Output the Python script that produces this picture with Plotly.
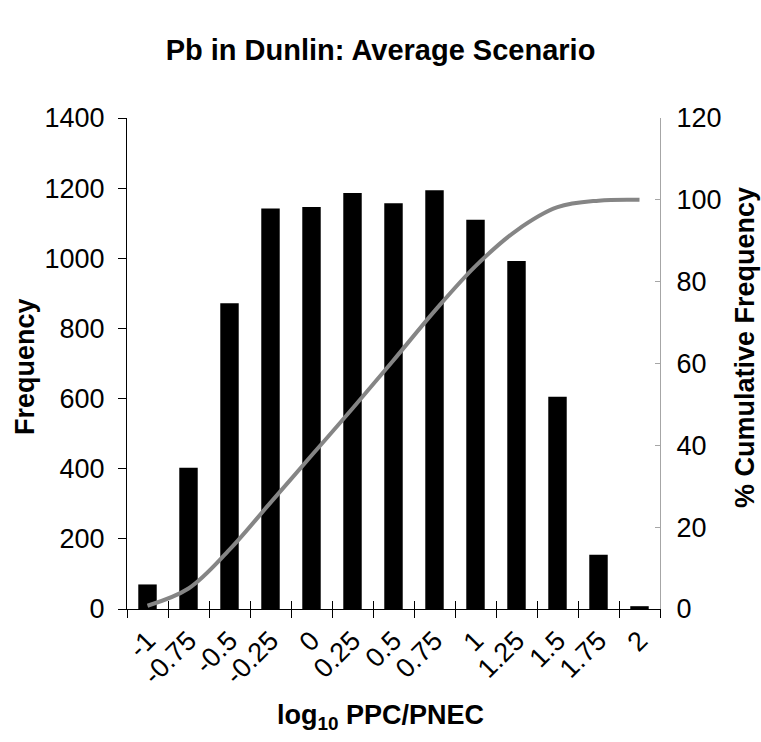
import plotly.graph_objects as go

categories = ["-1", "-0.75", "-0.5", "-0.25", "0", "0.25", "0.5", "0.75", "1", "1.25", "1.5", "1.75", "2"]
frequency = [70, 403, 872, 1142, 1146, 1186, 1157, 1194, 1110, 992, 605, 155, 8]
cumulative_pct = [0.8, 5.0, 14.5, 26.0, 37.5, 49.0, 60.8, 72.8, 83.8, 92.5, 98.2, 99.8, 100.0]

left_ticks = [0, 200, 400, 600, 800, 1000, 1200, 1400]
right_ticks = [0, 20, 40, 60, 80, 100, 120]

FONT = "Liberation Sans, Arial, sans-serif"
TICK = 27

fig = go.Figure()
fig.add_trace(go.Bar(x=categories, y=frequency, marker=dict(color="black", line=dict(width=0)),
                     name="Frequency", xaxis="x", yaxis="y"))
fig.add_trace(go.Scatter(x=categories, y=cumulative_pct, mode="lines",
                         line=dict(color="#858585", width=4, shape="spline"),
                         name="% Cumulative", xaxis="x2", yaxis="y2"))

fig.update_layout(
    width=761, height=742,
    margin=dict(l=127, r=101, t=118, b=133),
    paper_bgcolor="white", plot_bgcolor="white",
    showlegend=False,
    bargap=0.55,
    font=dict(family=FONT, color="black", size=TICK),
    title=dict(text="<b>Pb in Dunlin: Average Scenario</b>", x=0.5, xanchor="center",
               y=1 - 50 / 742, yanchor="middle", yref="container",
               font=dict(family=FONT, size=29, color="black")),
    xaxis=dict(type="category", range=[-0.5, 12.5], tickangle=-45, automargin=False,
               showline=True, linecolor="black", linewidth=1,
               ticks="outside", ticklen=8, tickcolor="black", tickson="boundaries",
               ticklabelstandoff=4,
               showgrid=False, zeroline=False,
               tickfont=dict(family=FONT, size=TICK, color="black")),
    xaxis2=dict(type="category", categoryorder="array", categoryarray=categories,
                range=[-0.5, 12.5], overlaying="x", side="bottom", automargin=False,
                showline=False, ticks="inside", ticklen=8, tickcolor="black",
                tickson="boundaries", showticklabels=False,
                showgrid=False, zeroline=False),
    yaxis=dict(range=[0, 1400], tickvals=left_ticks, automargin=False,
               showline=True, linecolor="black", linewidth=1,
               ticks="outside", ticklen=8, tickcolor="black", ticklabelstandoff=8,
               showgrid=False, zeroline=False,
               tickfont=dict(family=FONT, size=TICK, color="black")),
    yaxis2=dict(range=[0, 120], tickvals=right_ticks, overlaying="y", side="right", automargin=False,
                showline=True, linecolor="#a6a6a6", linewidth=1,
                ticks="inside", ticklen=5, tickcolor="#a6a6a6", ticklabelstandoff=10,
                showgrid=False, zeroline=False,
                tickfont=dict(family=FONT, size=TICK, color="black")),
    annotations=[
        dict(text="<b>Frequency</b>", xref="paper", yref="paper",
             x=(25 - 127) / 533, y=(609 - 367) / 491, xanchor="center", yanchor="middle",
             textangle=-90, showarrow=False, font=dict(family=FONT, size=27, color="black")),
        dict(text="<b>% Cumulative Frequency</b>", xref="paper", yref="paper",
             x=(745 - 127) / 533, y=(609 - 348) / 491, xanchor="center", yanchor="middle",
             textangle=-90, showarrow=False, font=dict(family=FONT, size=27, color="black")),
        dict(text="<b>log<sub>10</sub> PPC/PNEC</b>", xref="paper", yref="paper",
             x=(380 - 127) / 533, y=(609 - 717) / 491, xanchor="center", yanchor="middle",
             showarrow=False, font=dict(family=FONT, size=27, color="black")),
    ],
)

fig.write_html("out.html")
